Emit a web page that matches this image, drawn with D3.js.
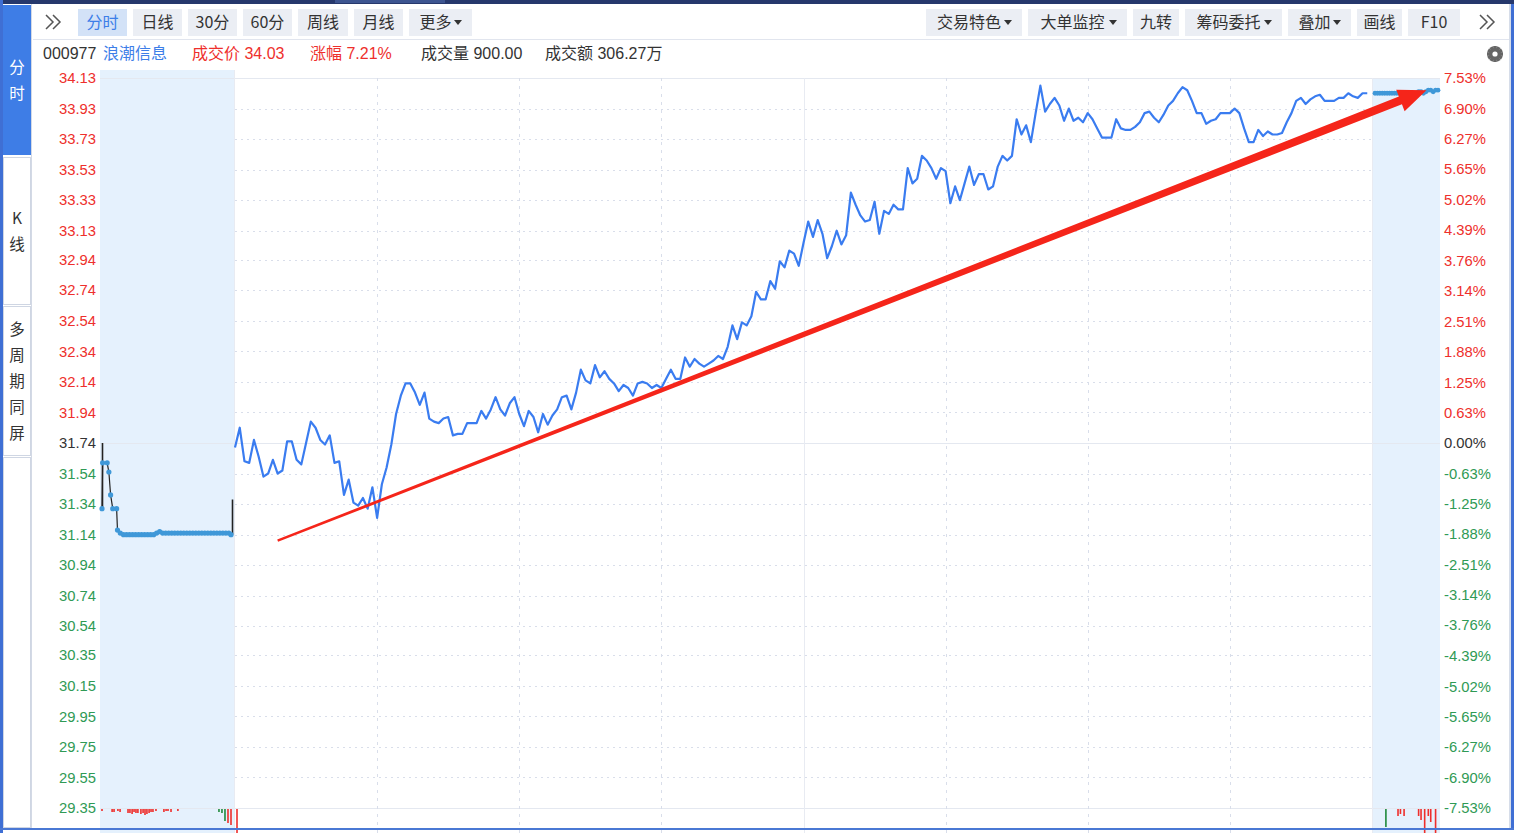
<!DOCTYPE html>
<html><head><meta charset="utf-8">
<script src="https://cdn.jsdelivr.net/npm/d3@7"></script>
<style>html,body{margin:0;padding:0;background:#fff;overflow:hidden}svg{display:block}</style>
</head><body>
<svg id="c" width="1514" height="833"></svg>
<script>
// ---------------- DATA ----------------
const stockCode = "000977";
const stockName = "浪潮信息";
const prevClose = 31.74;
const volumeText = "900.00";
const amountText = "306.27万";

const priceTicks = ["34.13","33.93","33.73","33.53","33.33","33.13","32.94","32.74","32.54","32.34","32.14","31.94","31.74","31.54","31.34","31.14","30.94","30.74","30.54","30.35","30.15","29.95","29.75","29.55","29.35"];
const pctTicks = ["7.53%","6.90%","6.27%","5.65%","5.02%","4.39%","3.76%","3.14%","2.51%","1.88%","1.25%","0.63%","0.00%","-0.63%","-1.25%","-1.88%","-2.51%","-3.14%","-3.76%","-4.39%","-5.02%","-5.65%","-6.27%","-6.90%","-7.53%"];

// one price per trading minute from 9:30
const minutePrices = [
31.71,31.84,31.62,31.61,31.76,31.65,31.52,31.54,31.63,31.54,
31.56,31.75,31.75,31.63,31.60,31.74,31.88,31.84,31.76,31.73,
31.79,31.61,31.62,31.40,31.50,31.35,31.33,31.38,31.31,31.45,
31.25,31.47,31.58,31.73,31.93,32.05,32.13,32.13,32.07,31.99,
32.07,31.90,31.88,31.87,31.90,31.91,31.79,31.80,31.80,31.87,
31.87,31.87,31.95,31.90,31.96,32.04,31.96,31.92,32.00,32.04,
31.93,31.85,31.95,31.91,31.81,31.93,31.86,31.92,31.96,32.04,
32.05,31.96,32.07,32.22,32.15,32.13,32.25,32.17,32.21,32.16,
32.13,32.08,32.12,32.10,32.05,32.13,32.14,32.13,
32.10,32.12,32.10,32.16,32.22,32.16,32.16,32.30,32.24,32.29,
32.26,32.24,32.26,32.28,32.31,32.29,32.37,32.51,32.42,32.53,
32.51,32.57,32.73,32.68,32.68,32.80,32.75,32.93,32.89,33.00,
32.98,32.90,33.05,33.19,33.09,33.20,33.11,32.95,33.03,33.13,
33.04,33.10,33.38,33.30,33.23,33.19,33.20,33.32,33.11,33.26,
33.24,33.30,33.27,33.27,33.54,33.44,33.47,33.62,33.59,33.54,
33.47,33.54,33.52,33.31,33.42,33.33,33.44,33.55,33.43,33.50,
33.50,33.40,33.42,33.55,33.62,33.59,33.62,
33.86,33.76,33.82,33.71,33.90,34.08,33.91,33.96,34.00,33.95,
33.85,33.93,33.85,33.87,33.84,33.90,33.86,33.80,33.74,33.74,33.74,
33.86,33.80,33.79,33.79,33.81,33.84,33.90,33.91,33.87,33.84,
33.89,33.95,33.98,34.03,34.07,34.05,33.98,33.90,33.90,33.83,
33.85,33.86,33.90,33.90,33.90,33.93,33.90,33.80,33.71,33.71,
33.79,33.75,33.78,33.76,33.76,33.77,33.84,33.90,33.98,34.00,
33.96,33.99,34.01,34.02,33.98,33.98,33.98,34.00,34.00,34.03,
34.01,34.00,34.03,34.03];

// call auction 9:15-9:25 (seconds after 9:15)
const auctionTimes  = [0,3,24,32,40,50,68,72,85,100,114,128,142,156,170,184,198,212,226,240,254,268,282,296,310,324,338,352,366,380,394,408,422,436,450,464,478,492,506,520,534,548,562,576,590,600];
const auctionPrices = [31.31,31.61,31.61,31.55,31.40,31.31,31.31,31.17,31.15,31.14,31.14,31.14,31.14,31.14,31.14,31.14,31.14,31.14,31.14,31.14,31.15,31.16,31.15,31.15,31.15,31.15,31.15,31.15,31.15,31.15,31.15,31.15,31.15,31.15,31.15,31.15,31.15,31.15,31.15,31.15,31.15,31.15,31.15,31.15,31.15,31.14];
const auctionTickTimes = [0,600];
const auctionTickHigh  = [31.74,31.37];
const auctionTickLow   = [31.31,31.14];
const auctionVolTimes = [0,47,56,74,84,121,130,140,149,158,167,181,191,200,209,219,228,237,251,288,298,307,321,353,544,558,572,586,600];
const auctionVols     = [20,30,30,20,30,40,40,50,30,40,40,50,40,60,50,40,30,30,20,30,20,20,30,20,30,40,120,140,160];
const auctionVolDir   = [1,1,1,1,1,1,1,1,1,1,1,1,1,1,1,1,1,1,1,1,1,1,1,1,-1,-1,-1,1,1];

// main session volume (visible part)
const mainVolMinutes = [0];
const mainVols = [300];
const mainVolDir = [1];

// after-hours fixed-price session
const postPrices = [34.03,34.03,34.03,34.03,34.03,34.03,34.03,34.03,34.03,34.03,34.03,34.03,34.03,34.03,34.03,34.03,34.03,34.03,34.04,34.04,34.03,34.04,34.05,34.05,34.04,34.05,34.05];
const postVolTimes = [4.5,9.5,10.5,12,18,19,20.5,22,23,25];
const postVols     = [180,70,50,70,70,110,260,70,130,260];
const postVolDir   = [-1,1,1,1,1,1,1,1,1,1];

// annotation arrow (minute, price)
const arrowStart = [9, 31.10];
const arrowEnd   = [251.5, 34.05];

const leftButtons  = [["分时",true,false],["日线",false,false],["30分",false,false],["60分",false,false],["周线",false,false],["月线",false,false],["更多",false,true]];
const rightButtons = [["交易特色",false,true],["大单监控",false,true],["九转",false,false],["筹码委托",false,true],["叠加",false,true],["画线",false,false],["F10",false,false]];
const sideTabs = [["分时",true],["K线",false],["多周期同屏",false]];

(function(){
// ---------------- STYLE / LAYOUT ----------------
const RED="#ee2f2c", GREEN="#2f9a55", DARK="#333", BLUE="#3d7ee8";
const FONT="'Liberation Sans','Noto Sans CJK SC',sans-serif";
const CJK="'Noto Sans CJK SC','Liberation Sans',sans-serif";
const leftBtnW  = [49,49,49,49,50,49,63];
const rightBtnW = [96,99,46,97,63,45,52];

const svg = d3.select("#c");
const W=1514,H=833;
const yTop=78,yBot=808;
const mainL=235,mainR=1372,preL=100,preR=234,postL=1372,postR=1440;

const y = d3.scaleLinear().domain([29.35,34.13]).range([yBot,yTop]);
const yPct = d3.scaleLinear().domain([-7.53,7.53]).range([yBot,yTop]);
const xMain = d3.scaleLinear().domain([0,240]).range([mainL,mainR]);
const xAuc = d3.scaleLinear().domain([0,600]).range([102,231]);
const xPost = d3.scaleLinear().domain([0,postPrices.length-1]).range([1375,1438]);
const vH = d3.scaleLinear().domain([0,250]).range([0,25]);

svg.append("rect").attr("width",W).attr("height",H).attr("fill","#fff");

// shaded auction / after-hours areas
svg.append("rect").attr("x",preL).attr("y",70).attr("width",preR-preL).attr("height",H-70).attr("fill","#e5f1fd");
svg.append("rect").attr("x",postL).attr("y",yTop).attr("width",postR-postL).attr("height",H-yTop).attr("fill","#e5f1fd");

// grid
const g = svg.append("g");
priceTicks.forEach((t,i)=>{
  const yy = Math.round(y(+t))+0.5;
  if (i===0 || i===priceTicks.length-1 || +t===prevClose) {
    g.append("line").attr("x1",preL).attr("x2",postR).attr("y1",yy).attr("y2",yy).attr("stroke","#e4e8f0").attr("stroke-width",1);
  } else {
    g.append("line").attr("x1",mainL).attr("x2",mainR).attr("y1",yy).attr("y2",yy).attr("stroke","#d9deea").attr("stroke-width",1).attr("stroke-dasharray","2,4");
  }
});
[30,60,90,120,150,180,210].forEach(m=>{
  const xx = Math.round(xMain(m))+0.5;
  g.append("line").attr("x1",xx).attr("x2",xx).attr("y1",yTop).attr("y2",H)
   .attr("stroke", m===120?"#e8ebf2":"#d9deea").attr("stroke-width",1)
   .attr("stroke-dasharray", m===120?null:"3,5");
});
g.append("line").attr("x1",mainR+0.5).attr("x2",mainR+0.5).attr("y1",yTop).attr("y2",H).attr("stroke","#e8ebf2");
g.append("line").attr("x1",preR+0.5).attr("x2",preR+0.5).attr("y1",70).attr("y2",H).attr("stroke","#e8ebf2");

// axis labels
const colorFor = v => v>0?RED:(v<0?GREEN:DARK);
priceTicks.forEach(t=>{
  svg.append("text").attr("x",96).attr("y",y(+t)).attr("dy","0.35em").attr("text-anchor","end")
    .attr("font-family",FONT).attr("font-size",14.8).attr("fill",colorFor(+t-prevClose)).text(t);
});
pctTicks.forEach(t=>{
  const v = parseFloat(t);
  svg.append("text").attr("x",1444).attr("y",yPct(v)).attr("dy","0.35em").attr("text-anchor","start")
    .attr("font-family",FONT).attr("font-size",14.8).attr("fill",colorFor(v)).text(t);
});

// volume bars
function bars(xs, vals, dirs, xf){
  xs.forEach((t,i)=>{
    svg.append("rect").attr("x",xf(t)-0.8).attr("y",yBot+1).attr("width",1.6).attr("height",vH(vals[i]))
      .attr("fill",dirs[i]>0?RED:"#1f8a3c");
  });
}
bars(auctionVolTimes,auctionVols,auctionVolDir,xAuc);
bars(mainVolMinutes,mainVols,mainVolDir,m=>xMain(m)+2);
bars(postVolTimes,postVols,postVolDir,xPost);

// auction: black line + ticks + dots
const aucPts = auctionTimes.map((t,i)=>[xAuc(t),y(auctionPrices[i])]);
svg.append("path").attr("d",d3.line()(aucPts)).attr("fill","none").attr("stroke","#222").attr("stroke-width",1.2);
auctionTickTimes.forEach((t,i)=>{
  svg.append("line").attr("x1",xAuc(t)+(i?1.5:0.5)).attr("x2",xAuc(t)+(i?1.5:0.5)).attr("y1",y(auctionTickHigh[i])).attr("y2",y(auctionTickLow[i]))
    .attr("stroke","#222").attr("stroke-width",1.6);
});
svg.selectAll(".ad").data(aucPts).enter().append("circle").attr("cx",d=>d[0]).attr("cy",d=>d[1]).attr("r",2.6).attr("fill","#3f98d8");

// main price line
const line = d3.line().x((d,i)=>xMain(i)).y(d=>y(d));
svg.append("path").attr("d",line(minutePrices)).attr("fill","none").attr("stroke","#3a7cf0").attr("stroke-width",2.2).attr("stroke-linejoin","round");

// after-hours dots
svg.selectAll(".pd").data(postPrices).enter().append("circle").attr("cx",(d,i)=>xPost(i)).attr("cy",d=>y(d)).attr("r",2.4).attr("fill","#3f98d8");

// red arrow annotation
(function(){
  const a0=[xMain(arrowStart[0]),y(arrowStart[1])], a1=[xMain(arrowEnd[0]),y(arrowEnd[1])];
  const dx=a1[0]-a0[0], dy=a1[1]-a0[1], L=Math.hypot(dx,dy), ux=dx/L, uy=dy/L, nx=-uy, ny=ux;
  const hl=28, hw=11.5, w0=1.2, w1=4.2;
  const b=[a1[0]-ux*hl,a1[1]-uy*hl];
  const P=[[a0[0]+nx*w0,a0[1]+ny*w0],[b[0]+nx*w1,b[1]+ny*w1],[b[0]+nx*hw,b[1]+ny*hw],a1,[b[0]-nx*hw,b[1]-ny*hw],[b[0]-nx*w1,b[1]-ny*w1],[a0[0]-nx*w0,a0[1]-ny*w0]];
  svg.append("path").attr("d","M"+P.map(p=>p.join(",")).join("L")+"Z").attr("fill","#f5251a");
})();

// ---------------- CHROME ----------------
svg.append("rect").attr("x",0).attr("y",0).attr("width",W).attr("height",4).attr("fill","#26386c");
svg.append("rect").attr("x",335).attr("y",0).attr("width",110).attr("height",3).attr("fill","#3d5590");
svg.append("rect").attr("x",0).attr("y",0).attr("width",3).attr("height",H).attr("fill","#3f6fd4");
svg.append("rect").attr("x",0).attr("y",828).attr("width",W).attr("height",2).attr("fill","#4a78d4");
svg.append("rect").attr("x",1509).attr("y",4).attr("width",2).attr("height",824).attr("fill","#d6dde9");
svg.append("rect").attr("x",1511).attr("y",4).attr("width",3).attr("height",824).attr("fill","#3f6fd4");

// sidebar
svg.append("line").attr("x1",31.5).attr("x2",31.5).attr("y1",4).attr("y2",828).attr("stroke","#d3d9e5");
const tabBoxes=[[5,155],[157,305],[306,456]];
sideTabs.forEach((tb,i)=>{
  const [y0,y1]=tabBoxes[i];
  svg.append("rect").attr("x",3.5).attr("y",y0+0.5).attr("width",27).attr("height",y1-y0-1)
    .attr("fill",tb[1]?"#3e7de6":"#fff").attr("stroke",tb[1]?"#3e7de6":"#cfd6e3");
  const chars=Array.from(tb[0]);
  const mid=(y0+y1)/2, step=26;
  chars.forEach((c,j)=>{
    svg.append("text").attr("x",17).attr("y",mid+(j-(chars.length-1)/2)*step).attr("dy","0.36em").attr("text-anchor","middle")
      .attr("font-family",CJK).attr("font-size",15.5).attr("fill",tb[1]?"#fff":DARK).text(c);
  });
});
svg.append("rect").attr("x",3.5).attr("y",457.5).attr("width",27).attr("height",370).attr("fill","#fff").attr("stroke","#cfd6e3");

svg.append("line").attr("x1",33).attr("x2",1509).attr("y1",39.5).attr("y2",39.5).attr("stroke","#e1e5ee");

function chevrons(x){
  svg.append("path").attr("d",`M${x},15 L${x+7},22 L${x},29 M${x+7},15 L${x+14},22 L${x+7},29`)
    .attr("fill","none").attr("stroke","#555").attr("stroke-width",1.5);
}
chevrons(46); chevrons(1480);

function buttons(list, widths, startX, gap){
  let x=startX;
  list.forEach((b,i)=>{
    const w=widths[i];
    svg.append("rect").attr("x",x).attr("y",9).attr("width",w).attr("height",27).attr("fill",b[1]?"#d3e2f7":"#ebeef4");
    const inner = w-(b[2]?14:0);
    const t = svg.append("text").attr("x",x+inner/2+(b[2]?2:0)).attr("y",22.5).attr("dy","0.36em").attr("text-anchor","middle")
      .attr("font-family",CJK).attr("font-size",16).attr("fill",b[1]?BLUE:DARK).text(b[0]);
    if(b[2]){
      const tx=x+w-18;
      svg.append("path").attr("d",`M${tx},20 l8,0 l-4,5 z`).attr("fill","#333");
    }
    x+=w+gap;
  });
}
buttons(leftButtons,leftBtnW,78,6);
buttons(rightButtons,rightBtnW,926,6);

// info row
const lastPrice = minutePrices[minutePrices.length-1];
const pct = (lastPrice/prevClose-1)*100;
const info=[[stockCode,DARK,43],[stockName,BLUE,103],["成交价 "+lastPrice.toFixed(2),RED,192],["涨幅 "+pct.toFixed(2)+"%",RED,310],["成交量 "+volumeText,DARK,421],["成交额 "+amountText,DARK,545]];
info.forEach(d=>{
  svg.append("text").attr("x",d[2]).attr("y",53).attr("dy","0.36em").attr("font-family",FONT).attr("font-size",16).attr("fill",d[1]).text(d[0]);
});

// gear icon
{
  const gg=svg.append("g").attr("transform","translate(1495,54)");
  for(let k=0;k<6;k++){
    gg.append("rect").attr("x",-1.8).attr("y",-8).attr("width",3.6).attr("height",16).attr("fill","#666").attr("transform",`rotate(${k*30})`);
  }
  gg.append("circle").attr("r",5.8).attr("fill","#666");
  gg.append("circle").attr("r",2.6).attr("fill","#fff");
}
})();
</script>
</body></html>
